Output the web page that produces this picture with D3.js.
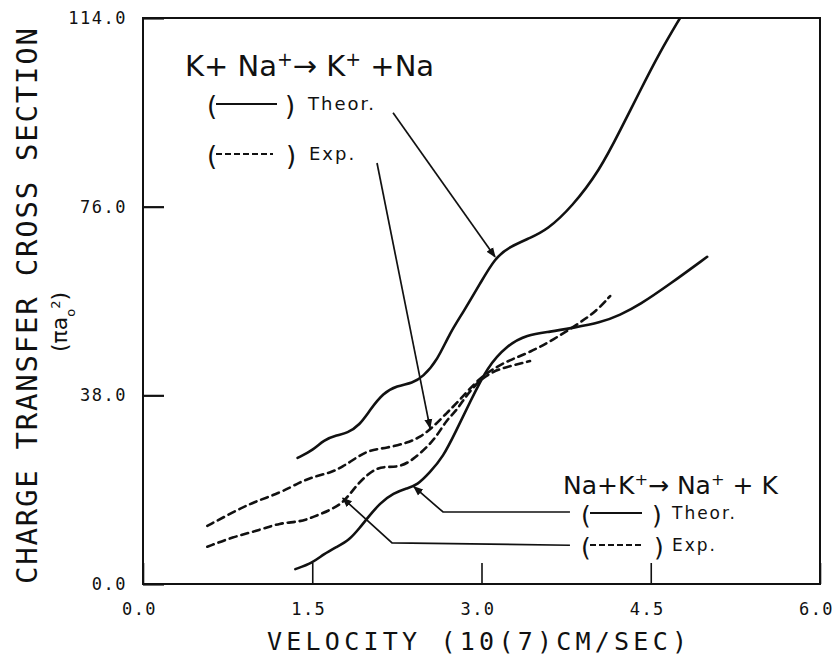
<!DOCTYPE html>
<html>
<head>
<meta charset="utf-8">
<script src="https://cdn.jsdelivr.net/npm/d3@7"></script>
<style>
  body { margin: 0; background: #fff; }
  svg { display: block; }
  .tick text { font-family: "DejaVu Sans Mono", monospace; font-size: 17px; letter-spacing: 1.5px; fill: #111; }
  .hand { font-family: "DejaVu Sans", sans-serif; fill: #111; }
</style>
</head>
<body>
<div id="chart"></div>
<script>
// tick labels
const xTicks = [0, 1.5, 3.0, 4.5, 6.0];
const yTicks = [0, 38, 76, 114];

// K + Na+ -> K+ + Na, theory (solid)
const kNaTheorV = [1.37, 1.51, 1.60, 1.72, 1.81, 1.92, 2.01, 2.13, 2.25, 2.39, 2.48, 2.61, 2.72, 2.84, 2.99, 3.12, 3.25, 3.43, 3.58, 3.80, 4.05, 4.23, 4.40, 4.58, 4.76];
const kNaTheorS = [25.4, 27.0, 29.0, 30.0, 30.4, 32.0, 35.0, 38.5, 39.9, 40.5, 41.7, 45.1, 50.6, 54.8, 60.6, 65.7, 67.9, 69.7, 71.3, 75.9, 83.4, 91.4, 99.1, 107.1, 114.0];

// K + Na+ -> K+ + Na, experiment (dashed)
const kNaExpV = [0.57, 0.80, 0.98, 1.21, 1.39, 1.51, 1.66, 1.77, 1.90, 2.01, 2.16, 2.34, 2.46, 2.57, 2.69, 2.81, 2.94, 3.08, 3.25, 3.43, 3.63, 3.87, 4.02, 4.14];
const kNaExpS = [11.7, 14.5, 16.5, 18.3, 20.5, 21.6, 22.4, 23.6, 25.6, 27.0, 27.4, 28.4, 29.6, 31.6, 34.4, 37.1, 40.5, 43.1, 45.1, 46.7, 49.1, 52.6, 55.0, 58.0];

// Na + K+ -> Na+ + K, theory (solid)
const naKTheorV = [1.35, 1.50, 1.60, 1.72, 1.83, 1.92, 1.99, 2.10, 2.22, 2.34, 2.43, 2.54, 2.66, 2.77, 2.90, 3.05, 3.23, 3.40, 3.61, 3.81, 4.05, 4.23, 4.40, 4.67, 5.00];
const naKTheorS = [3.0, 4.2, 6.0, 7.5, 8.9, 11.3, 13.3, 16.3, 18.3, 19.3, 19.9, 22.4, 25.6, 30.6, 36.7, 43.7, 48.1, 50.2, 50.8, 51.6, 52.6, 54.2, 56.2, 60.4, 65.9];

// Na + K+ -> Na+ + K, experiment (dashed)
const naKExpV = [0.57, 0.80, 1.04, 1.21, 1.39, 1.51, 1.66, 1.77, 1.86, 1.95, 2.07, 2.16, 2.28, 2.39, 2.52, 2.61, 2.69, 2.78, 2.84, 2.94, 3.08, 3.25, 3.43];
const naKExpS = [7.5, 9.5, 10.9, 12.3, 12.5, 13.5, 14.9, 16.3, 18.9, 21.3, 23.4, 23.6, 23.6, 25.0, 27.6, 30.0, 33.0, 35.0, 37.1, 40.1, 42.7, 43.9, 44.9];

const totalWidth = 838, totalHeight = 658;
const margin = {top: 18, right: 18, bottom: 74, left: 143};
const width = totalWidth - margin.left - margin.right;
const height = totalHeight - margin.top - margin.bottom;

const svg = d3.select("#chart").append("svg")
  .attr("width", totalWidth)
  .attr("height", totalHeight);
const defs = svg.append("defs");

const g = svg.append("g")
  .attr("transform", `translate(${margin.left},${margin.top})`);

const x = d3.scaleLinear().domain([0, 6]).range([0, width]);
const y = d3.scaleLinear().domain([0, 114]).range([height, 0]);

// axes, ticks pointing inward
g.append("g")
  .attr("transform", `translate(0,${height})`)
  .call(d3.axisBottom(x).tickValues(xTicks).tickFormat(d3.format(".1f"))
    .tickSize(-21).tickSizeOuter(0).tickPadding(19))
  .call(a => a.select(".domain").remove())
  .call(a => a.selectAll(".tick line").attr("stroke", "#111").attr("stroke-width", 1.6))
  .call(a => a.selectAll(".tick text").attr("dx", -4));

g.append("g")
  .call(d3.axisLeft(y).tickValues(yTicks).tickFormat(d3.format(".1f"))
    .tickSize(-21).tickSizeOuter(0).tickPadding(16))
  .call(a => a.select(".domain").remove())
  .call(a => a.selectAll(".tick line").attr("stroke", "#111").attr("stroke-width", 2.2));

// frame
g.append("rect")
  .attr("width", width).attr("height", height)
  .attr("fill", "none").attr("stroke", "#111").attr("stroke-width", 2);

// axis titles
svg.append("text")
  .attr("x", 267).attr("y", 650)
  .attr("textLength", 420).attr("lengthAdjust", "spacing")
  .style("font-family", "DejaVu Sans Mono, monospace").style("font-size", "25px").style("fill", "#111")
  .text("VELOCITY (10(7)CM/SEC)");

svg.append("text")
  .attr("transform", "translate(37,584) rotate(-90)")
  .attr("textLength", 556).attr("lengthAdjust", "spacing")
  .style("font-family", "DejaVu Sans Mono, monospace").style("font-size", "29px").style("fill", "#111")
  .text("CHARGE TRANSFER CROSS SECTION");

const unit = svg.append("text")
  .attr("class", "hand")
  .attr("transform", "translate(67,322) rotate(-90)")
  .attr("text-anchor", "middle")
  .style("font-size", "22px");
unit.append("tspan").text("(πa");
unit.append("tspan").attr("baseline-shift", "sub").style("font-size", "13px").text("o");
unit.append("tspan").attr("baseline-shift", "super").style("font-size", "13px").text("2");
unit.append("tspan").text(")");

// curves (B-spline smooths the hand-traced points)
defs.append("clipPath").attr("id", "plot-clip")
  .append("rect").attr("width", width).attr("height", height);

const line = d3.line()
  .x(d => x(d[0]))
  .y(d => y(d[1]))
  .curve(d3.curveBasis);

const series = [
  {v: kNaTheorV, s: kNaTheorS, dash: null},
  {v: kNaExpV, s: kNaExpS, dash: "7,5"},
  {v: naKTheorV, s: naKTheorS, dash: null},
  {v: naKExpV, s: naKExpS, dash: "7,5"}
];

g.append("g").attr("clip-path", "url(#plot-clip)")
  .selectAll("path")
  .data(series)
  .join("path")
  .attr("d", d => line(d3.zip(d.v, d.s)))
  .attr("fill", "none")
  .attr("stroke", "#111")
  .attr("stroke-width", 2.6)
  .attr("stroke-linecap", "round")
  .attr("stroke-dasharray", d => d.dash);

// pointer arrows
defs.append("marker")
  .attr("id", "head")
  .attr("viewBox", "0 0 10 10")
  .attr("refX", 9).attr("refY", 5)
  .attr("markerWidth", 10).attr("markerHeight", 10)
  .attr("markerUnits", "userSpaceOnUse")
  .attr("orient", "auto")
  .append("path").attr("d", "M0,1L10,5L0,9Z").attr("fill", "#111");

const pointers = [
  [[2.216, 94.9], [3.12, 65.9]],
  [[2.074, 84.8], [2.544, 31.4]],
  [[3.784, 14.5], [2.659, 14.5], [2.40, 19.6]],
  [[3.784, 7.8], [2.207, 8.3], [1.77, 17.3]]
];

g.append("g")
  .selectAll("path")
  .data(pointers)
  .join("path")
  .attr("d", d => d3.line().x(p => x(p[0])).y(p => y(p[1]))(d))
  .attr("fill", "none")
  .attr("stroke", "#111")
  .attr("stroke-width", 1.7)
  .attr("marker-end", "url(#head)");

// hand-written annotations
function reaction(px, py, size, parts) {
  const t = svg.append("text").attr("class", "hand")
    .attr("x", px).attr("y", py).style("font-size", size + "px");
  parts.forEach(p => {
    const ts = t.append("tspan").text(p[0]);
    if (p[1]) ts.attr("baseline-shift", "super").style("font-size", (size * 0.65) + "px");
  });
}

reaction(185, 76, 29, [["K+ Na"], ["+", true], ["\u2192 K"], ["+", true], [" +Na"]]);
reaction(563, 494, 25, [["Na+K"], ["+", true], ["\u2192 Na"], ["+", true], [" + K"]]);

function legendItem(px, py, dash, label, size, lineEnd, closeX, labelX) {
  const grp = svg.append("g");
  grp.append("text").attr("class", "hand").attr("x", px).attr("y", py + 5)
    .style("font-size", (size + 8) + "px").text("(");
  grp.append("line")
    .attr("x1", px + 9).attr("x2", px + lineEnd)
    .attr("y1", py - 6).attr("y2", py - 6)
    .attr("stroke", "#111").attr("stroke-width", 1.8)
    .attr("stroke-dasharray", dash);
  grp.append("text").attr("class", "hand").attr("x", px + closeX).attr("y", py + 5)
    .style("font-size", (size + 8) + "px").text(")");
  grp.append("text").attr("class", "hand").attr("x", px + labelX).attr("y", py)
    .style("font-size", size + "px").style("letter-spacing", "2px").text(label);
}

legendItem(207, 110, null, "Theor.", 18, 70, 78, 101);
legendItem(207, 160, "6,3", "Exp.", 18, 66, 79, 102);
legendItem(581, 519, null, "Theor.", 17, 61, 71, 91);
legendItem(581, 551, "6,3", "Exp.", 17, 60, 73, 91);
</script>
</body>
</html>
